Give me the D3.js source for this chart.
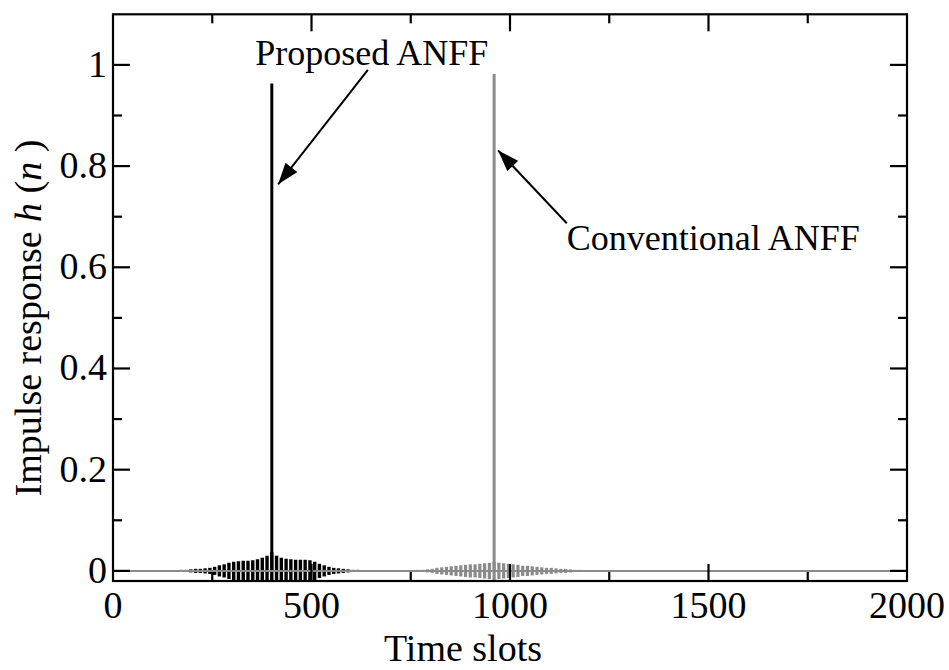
<!DOCTYPE html>
<html lang="en">

<head>
  <meta charset="UTF-8">
  <title>Impulse response</title>
  <style>
    body {
      margin: 0;
      background: #fff;
    }

    text {
      font-family: "Liberation Serif", "Times New Roman", serif;
      fill: #000;
    }
  </style>
</head>

<body>
  <div class="warp"></div>
  <script src="https://cdn.jsdelivr.net/npm/d3@7"></script>
  <script>
    // ringing of the proposed ANFF (sample index / envelope amplitude)
    var blackN = [148, 160, 172, 184, 196, 208, 220, 232, 244, 256, 268, 280, 292, 304, 316, 328, 340, 352, 364, 376,
      388, 400, 412, 424, 436, 448, 460, 472, 484, 496, 508, 520, 532, 544, 556, 568, 580, 592, 604, 616, 628, 640, 652];
    var blackAmp = [0.001, 0.001, 0.002, 0.002, 0.003, 0.004, 0.004, 0.005, 0.006, 0.008, 0.011, 0.013, 0.016, 0.018,
      0.019, 0.02, 0.02, 0.021, 0.023, 0.026, 0.03, 0.037, 0.03, 0.026, 0.024, 0.023, 0.022, 0.022, 0.022, 0.021,
      0.018, 0.014, 0.011, 0.008, 0.006, 0.005, 0.004, 0.003, 0.002, 0.002, 0.001, 0.001, 0.001];
    // ringing of the conventional ANFF
    var grayN = [756, 768, 780, 792, 804, 816, 828, 840, 852, 864, 876, 888, 900, 912, 924, 936, 948, 960, 972, 984,
      996, 1008, 1020, 1032, 1044, 1056, 1068, 1080, 1092, 1104, 1116, 1128, 1140, 1152, 1164, 1176, 1188, 1200];
    var grayAmp = [0.001, 0.002, 0.002, 0.003, 0.004, 0.006, 0.007, 0.008, 0.009, 0.01, 0.011, 0.012, 0.013, 0.013,
      0.014, 0.015, 0.016, 0.018, 0.016, 0.015, 0.014, 0.013, 0.012, 0.01, 0.01, 0.009, 0.008, 0.007, 0.006, 0.006,
      0.005, 0.004, 0.004, 0.003, 0.002, 0.002, 0.001, 0.001];
    // main impulses
    var spikeN = [400, 960];
    var spikeV = [0.963, 0.982];

    var xMajor = [0, 500, 1000, 1500, 2000];
    var xMinor = [250, 750, 1250, 1750];
    var yMajor = [0, 0.2, 0.4, 0.6, 0.8, 1];
    var yMinor = [0.1, 0.3, 0.5, 0.7, 0.9];
    var yLabels = ['0', '0.2', '0.4', '0.6', '0.8', '1'];

    var W = 949, H = 670;
    // plot box (window.top is read-only, so no "top" here)
    var pL = 113, pR = 907, pT = 14.3, pB = 581;
    var black = '#000', gray = '#8a8a8a';

    var svg = d3.select('.warp').append('svg')
      .attr('width', W)
      .attr('height', H);

    var x = d3.scaleLinear().domain([0, 2000]).range([pL, pR]);
    var y = d3.scaleLinear().domain([-0.02, 1.1]).range([pB, pT]);

    svg.append('clipPath').attr('id', 'clip')
      .append('rect')
      .attr('x', pL).attr('y', pT)
      .attr('width', pR - pL).attr('height', pB - pT);

    var plot = svg.append('g').attr('clip-path', 'url(#clip)');

    function ringing(ns, amps, color, w) {
      plot.append('g').selectAll('line')
        .data(ns)
        .enter()
        .append('line')
        .attr('x1', function (d) { return x(d); })
        .attr('x2', function (d) { return x(d); })
        .attr('y1', function (d, i) { return y(amps[i]); })
        .attr('y2', function (d, i) { return y(-amps[i]); })
        .attr('stroke', color)
        .attr('stroke-width', w);
    }

    // zero line of the black series, then its ringing
    plot.append('line')
      .attr('x1', x(0)).attr('x2', x(2000))
      .attr('y1', y(0)).attr('y2', y(0))
      .attr('stroke', black).attr('stroke-width', 2);
    ringing(blackN, blackAmp, black, 3.4);
    ringing(grayN, grayAmp, gray, 3.2);

    plot.selectAll('line.spike')
      .data(spikeN)
      .enter()
      .append('line')
      .attr('class', 'spike')
      .attr('x1', function (d) { return x(d); })
      .attr('x2', function (d) { return x(d); })
      .attr('y1', y(0))
      .attr('y2', function (d, i) { return y(spikeV[i]); })
      .attr('stroke', function (d, i) { return i === 0 ? black : gray; })
      .attr('stroke-width', 3);

    // gray zero line sits on top
    plot.append('line')
      .attr('x1', x(0)).attr('x2', x(2000))
      .attr('y1', y(0)).attr('y2', y(0))
      .attr('stroke', gray).attr('stroke-width', 2);

    // frame + inward ticks
    var axes = svg.append('g').attr('stroke', black).attr('stroke-width', 2.2);
    axes.append('rect')
      .attr('x', pL).attr('y', pT)
      .attr('width', pR - pL).attr('height', pB - pT)
      .attr('fill', 'none');

    function xTicks(vals, len) {
      vals.forEach(function (v) {
        axes.append('line').attr('x1', x(v)).attr('x2', x(v)).attr('y1', pB).attr('y2', pB - len);
        axes.append('line').attr('x1', x(v)).attr('x2', x(v)).attr('y1', pT).attr('y2', pT + len);
      });
    }
    function yTicks(vals, len) {
      vals.forEach(function (v) {
        axes.append('line').attr('x1', pL).attr('x2', pL + len).attr('y1', y(v)).attr('y2', y(v));
        axes.append('line').attr('x1', pR).attr('x2', pR - len).attr('y1', y(v)).attr('y2', y(v));
      });
    }
    xTicks(xMajor.slice(1, -1), 17);
    xTicks(xMinor, 9);
    yTicks(yMajor, 17);
    yTicks(yMinor, 9);

    svg.append('g').selectAll('text')
      .data(xMajor)
      .enter()
      .append('text')
      .attr('x', function (d) { return x(d); })
      .attr('y', 618)
      .attr('text-anchor', 'middle')
      .style('font-size', '38px')
      .text(function (d) { return d; });

    svg.append('g').selectAll('text')
      .data(yMajor)
      .enter()
      .append('text')
      .attr('x', 107)
      .attr('y', function (d) { return y(d) + 12; })
      .attr('text-anchor', 'end')
      .style('font-size', '38px')
      .text(function (d, i) { return yLabels[i]; });

    svg.append('text')
      .attr('x', 463).attr('y', 661)
      .attr('text-anchor', 'middle')
      .style('font-size', '38px')
      .text('Time slots');

    var yl = svg.append('text')
      .attr('transform', 'translate(41,318) rotate(-90)')
      .attr('text-anchor', 'middle')
      .style('font-size', '38px');
    yl.append('tspan').text('Impulse response ');
    yl.append('tspan').style('font-style', 'italic').text('h');
    yl.append('tspan').text(' (');
    yl.append('tspan').style('font-style', 'italic').text('n');
    yl.append('tspan').text(' )');

    // annotations
    svg.append('defs').append('marker')
      .attr('id', 'head')
      .attr('markerUnits', 'userSpaceOnUse')
      .attr('viewBox', '0 0 20 14')
      .attr('refX', 20).attr('refY', 7)
      .attr('markerWidth', 22).attr('markerHeight', 15)
      .attr('orient', 'auto')
      .append('path')
      .attr('d', 'M0,0 L20,7 L0,14 Z')
      .attr('fill', black);

    svg.append('text')
      .attr('x', x(652)).attr('y', y(1.0))
      .attr('text-anchor', 'middle')
      .style('font-size', '36px')
      .text('Proposed ANFF');
    svg.append('line')
      .attr('x1', x(642)).attr('y1', y(0.99))
      .attr('x2', x(416)).attr('y2', y(0.764))
      .attr('stroke', black).attr('stroke-width', 2)
      .attr('marker-end', 'url(#head)');

    svg.append('text')
      .attr('x', x(1143)).attr('y', y(0.634))
      .style('font-size', '36px')
      .text('Conventional ANFF');
    svg.append('line')
      .attr('x1', x(1143)).attr('y1', y(0.687))
      .attr('x2', x(970)).attr('y2', y(0.831))
      .attr('stroke', black).attr('stroke-width', 2)
      .attr('marker-end', 'url(#head)');
  </script>
</body>

</html>
